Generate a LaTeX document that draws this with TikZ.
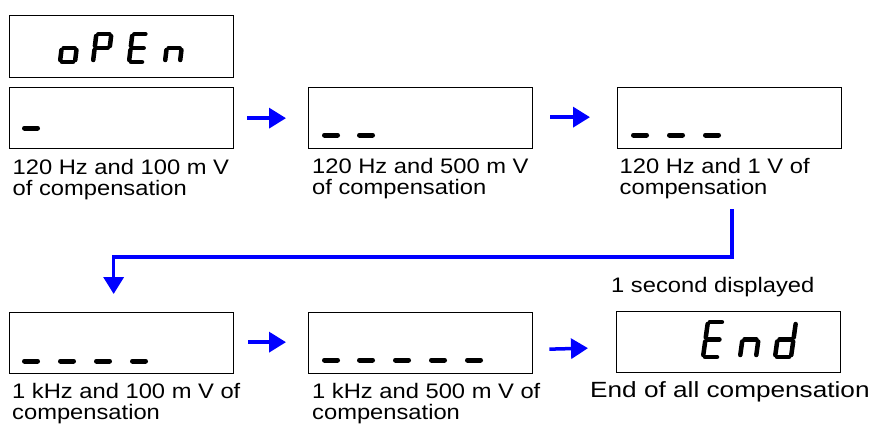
\documentclass[tikz,border=0pt]{standalone}
\usepackage{fontspec}
\setmainfont{Liberation Sans}
\newfontfamily\lblfont{Liberation Sans}[FakeStretch=1.13]
\newfontfamily\endlblfont{Liberation Sans}[FakeStretch=1.19]
\usetikzlibrary{arrows.meta}
\definecolor{flowblue}{RGB}{0,0,255}
% one segment from glyph point (#1,#2) to (#3,#4), v measured upward from the baseline
\newcommand\segpiece[4]{%
  \pgfmathsetmacro\pxa{\glx+(#1)+\gls*(#2)}\pgfmathsetmacro\pya{\gly-(#2)}%
  \pgfmathsetmacro\pxb{\glx+(#3)+\gls*(#4)}\pgfmathsetmacro\pyb{\gly-(#4)}%
  \draw[segline,line width=\glw] (\pxa,\pya)--(\pxb,\pyb);}
\newcommand\sgA{\segpiece{\segG}{\segH}{\segW-\segG}{\segH}}
\newcommand\sgB{\segpiece{\segW}{\segH-\segG}{\segW}{\segM+\segG}}
\newcommand\sgC{\segpiece{\segW}{\segM-\segG}{\segW}{\segG}}
\newcommand\sgD{\segpiece{\segG}{0}{\segW-\segG}{0}}
\newcommand\sgE{\segpiece{0}{\segG}{0}{\segM-\segG}}
\newcommand\sgF{\segpiece{0}{\segM+\segG}{0}{\segH-\segG}}
\newcommand\sgG{\segpiece{\segG}{\segM}{\segW-\segG}{\segM}}
% #1 x0, #2 baseline y, #3 width, #4 height, #5 slant, #6 stroke, #7 segments
\newcommand{\glyph}[7]{%
  \def\glx{#1}\def\gly{#2}\def\segW{#3}\def\segH{#4}\pgfmathsetmacro\segM{#4/2}%
  \def\segG{2}\def\gls{#5}\def\glw{#6}%
  \foreach \s in {#7}{\csname sg\s\endcsname}}
\begin{document}
\begin{tikzpicture}[x=1pt,y=-1pt,
  lcd/.style={draw=black, line width=1.3pt, fill=white, minimum width=224pt, minimum height=61pt, anchor=north west, inner sep=0pt},
  segline/.style={line cap=round, black},
  lcdbar/.style={line width=5pt, line cap=round, black},
  flow/.style={draw=flowblue, line width=3.5pt, -{Triangle[length=17pt,width=20pt]}},
  lbl/.style={anchor=north west, align=left, inner sep=0pt, font=\lblfont\fontsize{21}{21}\selectfont},
]
\useasboundingbox (0,0) rectangle (877,424);

% boxes
\node[lcd, minimum height=62pt] (open) at (9,15) {};
\node[lcd] (b1) at (9,87) {};
\node[lcd] (b2) at (308,87) {};
\node[lcd] (b3) at (617,87) {};
\node[lcd] (b4) at (9,312) {};
\node[lcd] (b5) at (308,312) {};
\node[lcd] (b6) at (616,311) {};

% oPEn
\glyph{60}{62}{15}{28}{0.12}{4.5pt}{C,D,E,G}
\glyph{93}{62}{15}{28}{0.12}{4.5pt}{A,B,E,F,G}
\glyph{129}{62}{15}{28}{0.12}{4.5pt}{A,D,E,F,G}
\glyph{165}{62}{15}{28}{0.12}{4.5pt}{C,E,G}

% End
\glyph{703}{357}{16}{35}{0.14}{4.5pt}{A,D,E,F,G}
\glyph{740}{357}{16}{35}{0.14}{4.5pt}{C,E,G}
\glyph{775}{357}{16}{35}{0.14}{4.5pt}{B,C,D,E,G}

% progress dashes
\draw[lcdbar] (24.5,128)--(37.5,128);
\foreach \x in {324.5,359.5} {\draw[lcdbar] (\x,135)--(\x+13,135);}
\foreach \x in {633.5,669.5,705.5} {\draw[lcdbar] (\x,135)--(\x+13,135);}
\foreach \x in {24.5,60.5,96.5,132.5} {\draw[lcdbar] (\x,361)--(\x+13,361);}
\foreach \x in {324.5,359.5,395.5,431.5,467.5} {\draw[lcdbar] (\x,360)--(\x+13,360);}

% labels
\node[lbl] (l1) at (12.5,159) {120 Hz and 100 m V\\of compensation};
\node[lbl] (l2) at (312,158.5) {120 Hz and 500 m V\\of compensation};
\node[lbl] (l3) at (619.5,158.5) {120 Hz and 1 V of\\compensation};
\node[lbl] (l4) at (12,383) {1 kHz and 100 m V of\\compensation};
\node[lbl] (l5) at (312,383) {1 kHz and 500 m V of\\compensation};
\node[anchor=base west, inner sep=0pt, font=\lblfont\fontsize{21}{21}\selectfont] (sec) at (611,292) {1 second displayed};
\node[anchor=base west, inner sep=0pt, font=\endlblfont\fontsize{22}{22}\selectfont] (endl) at (590,397) {End of all compensation};

% connectors
\coordinate (turn) at (732,209);
\draw[flow] ([xshift=13pt]b1.east) -- ([xshift=-22pt]b2.west);
\draw[flow] ([xshift=17pt,yshift=1pt]b2.east) -- ([xshift=-27pt,yshift=1pt]b3.west);
\draw[flow] ([xshift=14pt,yshift=1pt]b4.east) -- ([xshift=-22pt,yshift=1pt]b5.west);
\draw[flow] ([xshift=16pt,yshift=-6pt]b5.east) -- ([xshift=-28pt,yshift=-6pt]b6.west);
\draw[flow] (turn) -- (732,257) -| ([xshift=-8pt,yshift=18pt]b4.north);
\end{tikzpicture}
\end{document}
